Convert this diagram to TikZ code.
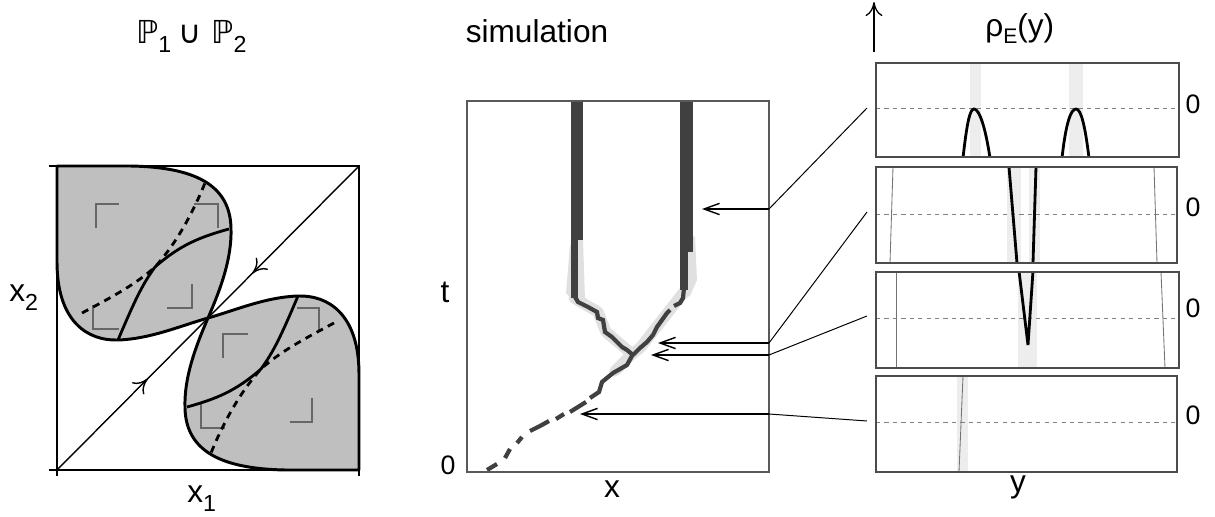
\documentclass[tikz,border=0pt]{standalone}
\usepackage{fontspec}
\setmainfont{Liberation Sans}
\newfontfamily\dejavu{DejaVu Sans}
\usetikzlibrary{arrows.meta,decorations.markings}
\tikzset{
 frame/.style={draw=black, line width=0.8pt},
 mframe/.style={draw=black!65, line width=1pt},
 lobe/.style={fill=black!25, draw=black, line width=2.1pt, line join=round},
 solidcurve/.style={draw=black, line width=2pt},
 dashcurve/.style={draw=black, line width=2pt, dash pattern=on 5pt off 4pt},
 bracket/.style={draw=black!60, line width=0.9pt},
 lbl/.style={font=\fontsize{22.5}{26}\selectfont, inner sep=0pt},
 zlbl/.style={font=\fontsize{19}{22}\selectfont, inner sep=0pt},
 track/.style={draw=black!75, line width=3pt, line join=miter},
 halo/.style={draw=black!12, line width=8pt, line join=round, line cap=round},
 pointer/.style={draw=black, line width=0.9pt, -{Straight Barb[length=11pt,width=8pt,line width=1pt]}},
 leader/.style={draw=black, line width=0.7pt},
 pbox/.style={draw=black!70, line width=1pt},
 zline/.style={draw=black!50, line width=0.6pt, dash pattern=on 3pt off 3pt},
 band/.style={fill=black!7},
 profile/.style={draw=black, line width=2pt},
 faint/.style={draw=black!55, line width=0.6pt},
}
\newcommand{\subtxt}[1]{\raisebox{-6.5pt}{\fontsize{16.5}{16.5}\selectfont #1}}
\begin{document}
\begin{tikzpicture}[x=0.7113pt, y=-0.7113pt]
\useasboundingbox (0,0) rectangle (1215,517);
% ---------------- left panel ----------------
\draw[frame] (57,166) rectangle (359,470);
\draw[frame] (49,166) -- (57,166) (49,470) -- (57,470) (57,470) -- (57,476) (359,470) -- (359,476);
\coordinate (d0) at (57,470);
\coordinate (d1) at (359,166);
\draw[line width=1pt, decoration={markings,
   mark=at position 0.3 with {\arrow{To[length=10pt,width=12pt]}},
   mark=at position 0.68 with {\arrow{To[length=10pt,width=12pt,reversed]}}},
   postaction=decorate] (d0) -- (d1);
% upper-left lobe
\path[lobe] (208,318) .. controls (221,288) and (232,258) .. (231,228)
  .. controls (230,185) and (195,167) .. (130,166) -- (57,166) -- (57,262)
  .. controls (57,322) and (88,341) .. (118,340)
  .. controls (150,339) and (180,326) .. (208,318) -- cycle;
\draw[bracket] (96,228) -- (96,204) -- (119,204);
\draw[bracket] (194,204) -- (218,204) -- (218,228);
\draw[bracket] (192,284) -- (192,308) -- (167,308);
\draw[bracket] (93,305) -- (93,329) -- (119,329);
\draw[dashcurve] (82,313) .. controls (110,298) and (135,285) .. (155,267)
  .. controls (175,245) and (192,215) .. (205,183);
\draw[solidcurve] (118,340) .. controls (135,300) and (142,285) .. (155,267)
  .. controls (180,245) and (200,237) .. (229,229);
% lower-right lobe
\begin{scope}[rotate around={180:(208,318)}]
\path[lobe] (208,318) .. controls (221,288) and (232,258) .. (231,228)
  .. controls (230,185) and (195,167) .. (130,166) -- (57,166) -- (57,262)
  .. controls (57,322) and (88,341) .. (118,340)
  .. controls (150,339) and (180,326) .. (208,318) -- cycle;
\end{scope}
\draw[bracket] (223,358) -- (223,334) -- (248,334);
\draw[bracket] (297,308) -- (319,308) -- (319,330);
\draw[bracket] (201,403) -- (201,428) -- (225,428);
\draw[bracket] (312,398) -- (312,422) -- (290,422);
\begin{scope}[rotate around={180:(208,318)}]
\draw[dashcurve] (82,313) .. controls (110,298) and (135,285) .. (155,267)
  .. controls (175,245) and (192,215) .. (205,183);
\draw[solidcurve] (118,340) .. controls (135,300) and (142,285) .. (155,267)
  .. controls (180,245) and (200,237) .. (229,229);
\end{scope}
\node[lbl, anchor=base west] (ptitle) at (136,43) {{\dejavu ℙ}\subtxt{1}\hspace{5pt}{\dejavu ∪}\hspace{7pt}{\dejavu ℙ}\subtxt{2}};
\node[lbl, anchor=base west] (xtwo) at (9,301) {x\subtxt{2}};
\node[lbl, anchor=base west] (xone) at (187,502) {x\subtxt{1}};
% ---------------- middle panel ----------------
\fill[black!12] (578,240) -- (583,240) -- (585,300) -- (575,303) -- (566,293) -- (570,245) -- cycle;
\fill[black!12] (688,233) -- (695,237) -- (697,280) -- (690,296) -- (680,300) -- (680,252) -- (688,252) -- cycle;
\draw[halo] (574,298) -- (598,312) -- (606,332) -- (632,354) -- (640,348) -- (662,320) -- (684,292);
\draw[halo] (632,354) -- (615,371);
\fill[black!75] (571,101) rectangle (583,240);
\fill[black!75] (571,240) rectangle (578,298);
\fill[black!75] (680,101) rectangle (693,252);
\fill[black!75] (680,252) rectangle (688,290);
\draw[track] (574.5,296) -- (578,302) -- (588,307) -- (597,312) -- (598,318) -- (603,320) -- (605,332) -- (612,337) -- (617,342) -- (622,347) -- (627,350) -- (633,355);
\draw[track] (684,288) -- (683,298) -- (680,303) -- (674,306);
\draw[track] (670,310) -- (667,313) -- (662,320) -- (657,327) -- (653,335) -- (647,342) -- (640,348) -- (633,355);
\draw[track] (633,354) -- (627,365) -- (613,373) -- (602,382) -- (599,392) -- (590,398);
\draw[track] (586,402) -- (570,412);
\draw[track] (564,414) -- (556,419);
\draw[track] (549,421) -- (540,426) -- (530,431);
\draw[track] (522,437) -- (517,443);
\draw[track] (510,449) -- (505,458);
\draw[track] (497,464) -- (487,470);
\draw[mframe] (467,101) rectangle (769,472);
\node[lbl, anchor=base] (simt) at (537,42) {simulation};
\node[lbl] (tlab) at (445,292) {t};
\node[zlbl] (zlab) at (448,465) {0};
\node[lbl] (xlab) at (612,489) {x};
% ---------------- right panel ----------------
\coordinate (ua) at (874,52);
\coordinate (ub) at (874,2);
\draw[line width=0.9pt, -{To[length=10pt,width=12pt]}] (ua) -- (ub);
\node[lbl, anchor=base west] (rho) at (985,36) {ρ\raisebox{-5pt}{\fontsize{15}{15}\selectfont E}(y)};
% box 1
\begin{scope}
\clip (876,63) rectangle (1179,157);
\fill[band] (970,63) rectangle (981,157);
\fill[band] (1069,63) rectangle (1083,157);
\draw[zline] (876,108) -- (1179,108);
\draw[profile] (963,158) .. controls (967,122) and (970,109) .. (974,109) .. controls (979,109) and (985,125) .. (990,158);
\draw[profile] (1062,158) .. controls (1066,122) and (1071,109) .. (1076,109) .. controls (1081,109) and (1085,125) .. (1089,158);
\end{scope}
\draw[pbox] (876,63) rectangle (1179,157);
% box 2
\begin{scope}
\clip (876,167) rectangle (1177,263);
\fill[band] (1007,167) rectangle (1021,263);
\fill[band] (1029,167) rectangle (1040,263);
\draw[zline] (876,214) -- (1177,214);
\draw[faint] (893,167) -- (890,263);
\draw[faint] (1154,167) -- (1157,263);
\draw[profile] (1009,167) -- (1017,263);
\draw[profile] (1036,167) -- (1033,263);
\end{scope}
\draw[pbox] (876,167) rectangle (1177,263);
% box 3
\begin{scope}
\clip (876,272) rectangle (1179,368);
\fill[band] (1018,272) rectangle (1037,368);
\draw[zline] (876,318) -- (1179,318);
\draw[faint] (896,272) -- (896,368);
\draw[faint] (1161,272) -- (1165,368);
\draw[profile, line join=miter] (1019,271) -- (1028,345) -- (1033,271);
\end{scope}
\draw[pbox] (876,272) rectangle (1179,368);
% box 4
\begin{scope}
\clip (876,376) rectangle (1177,472);
\fill[band] (957,376) rectangle (968,472);
\draw[zline] (876,422) -- (1177,422);
\draw[faint] (963,376) -- (959,472);
\end{scope}
\draw[pbox] (876,376) rectangle (1177,472);
\node[zlbl] (z1) at (1193,104) {0};
\node[zlbl] (z2) at (1193,207) {0};
\node[zlbl] (z3) at (1193,308) {0};
\node[zlbl] (z4) at (1193,415) {0};
\node[lbl] (ylab) at (1018,487) {y};
% ---------------- pointers ----------------
\coordinate (k1) at (769,209); \coordinate (t1) at (702,209); \coordinate (b1) at (867,108);
\coordinate (k2) at (769,343); \coordinate (t2) at (658,343); \coordinate (b2) at (867,212);
\coordinate (k3) at (769,355); \coordinate (t3) at (651,355); \coordinate (b3) at (867,316);
\coordinate (k4) at (769,414); \coordinate (t4) at (580,414); \coordinate (b4) at (867,421);
\draw[leader] (b1) -- (k1); \draw[pointer] (k1) -- (t1);
\draw[leader] (b2) -- (k2); \draw[pointer] (k2) -- (t2);
\draw[leader] (b3) -- (k3); \draw[pointer] (k3) -- (t3);
\draw[leader] (b4) -- (k4); \draw[pointer] (k4) -- (t4);
\end{tikzpicture}
\end{document}
